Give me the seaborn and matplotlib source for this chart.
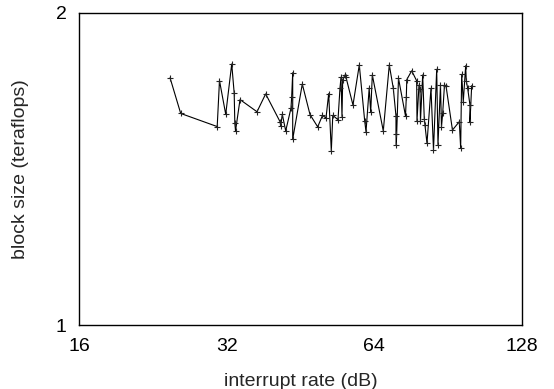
import matplotlib
matplotlib.use('Agg')
import matplotlib.pyplot as plt
import pandas as pd
import seaborn as sns

# values
interrupt_rate = [24.53, 25.79, 30.61, 30.94, 31.86, 32.77, 33.15, 33.25, 33.36, 34.07,
                  36.90, 38.43, 41.11, 41.24, 41.55, 42.22, 43.28, 43.42, 43.63, 43.63,
                  45.64, 47.32, 49.06, 50.18, 51.01, 51.66, 52.30, 52.66, 53.97, 54.47,
                  54.73, 54.99, 55.17, 55.77, 56.03, 57.90, 59.64, 61.17, 61.55, 62.48,
                  62.92, 63.40, 66.75, 68.66, 69.96, 70.85, 70.85, 70.96, 71.69, 74.09,
                  74.37, 74.54, 76.28, 78.08, 78.19, 78.93, 79.30, 79.48, 80.31, 80.91,
                  81.18, 81.95, 83.50, 84.49, 85.77, 86.29, 87.31, 87.72, 88.22, 88.96,
                  89.59, 92.36, 95.37, 95.99, 96.44, 97.17, 98.27, 98.55, 99.20, 100.27,
                  100.27, 101.08]
block_size = [1.732, 1.600, 1.554, 1.721, 1.597, 1.786, 1.674, 1.566, 1.539, 1.650,
              1.606, 1.671, 1.571, 1.556, 1.597, 1.539, 1.619, 1.660, 1.751, 1.511,
              1.708, 1.596, 1.553, 1.593, 1.584, 1.672, 1.471, 1.593, 1.578, 1.692,
              1.734, 1.589, 1.725, 1.743, 1.734, 1.630, 1.782, 1.574, 1.536, 1.693,
              1.604, 1.743, 1.539, 1.782, 1.692, 1.591, 1.529, 1.492, 1.730, 1.591,
              1.660, 1.725, 1.759, 1.720, 1.573, 1.704, 1.691, 1.573, 1.743, 1.582,
              1.559, 1.497, 1.692, 1.475, 1.765, 1.493, 1.704, 1.553, 1.601, 1.704,
              1.702, 1.542, 1.571, 1.481, 1.745, 1.642, 1.779, 1.720, 1.692, 1.630,
              1.569, 1.702]

x_ticks = [16, 32, 64, 128]
y_ticks = [1, 2]

df = pd.DataFrame({'rate': interrupt_rate, 'size': block_size})

sns.set_style('white')
plt.rcParams['font.family'] = ['Liberation Sans', 'DejaVu Sans']

fig = plt.figure(figsize=(5.54, 3.89), dpi=100)
ax = fig.add_axes([0.1426, 0.1645, 0.7996, 0.8021])

sns.lineplot(data=df, x='rate', y='size', sort=False, estimator=None, ax=ax,
             color='black', linewidth=0.8, marker='+', markersize=5,
             markeredgewidth=0.8, markeredgecolor='#222222')

ax.set_xscale('log', base=2)
ax.set_yscale('log', base=2)
ax.set_xlim(16, 128)
ax.set_ylim(1, 2)
ax.set_xticks(x_ticks)
ax.set_xticklabels([str(t) for t in x_ticks])
ax.set_yticks(y_ticks)
ax.set_yticklabels([str(t) for t in y_ticks])
ax.minorticks_off()
ax.tick_params(length=0, labelsize=14, colors='black')
ax.tick_params(axis='x', pad=9)
ax.tick_params(axis='y', pad=9)

for s in ax.spines.values():
    s.set_color('black')
    s.set_linewidth(1.0)

ax.set_xlabel('interrupt rate (dB)', fontsize=14, labelpad=13)
ax.set_ylabel('block size (teraflops)', fontsize=14, labelpad=19)

fig.savefig('out.png', dpi=100)
